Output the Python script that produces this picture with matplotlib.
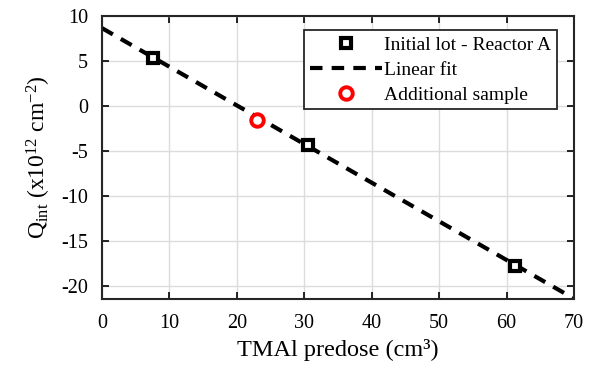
import numpy as np
import matplotlib.pyplot as plt

plt.rcParams['font.family'] = ['Liberation Serif', 'DejaVu Serif']
plt.rcParams['mathtext.fontset'] = 'custom'
plt.rcParams['mathtext.rm'] = 'Liberation Serif'
plt.rcParams['mathtext.it'] = 'Liberation Serif'
plt.rcParams['axes.unicode_minus'] = False

# data
dose = [7.6, 30.6, 61.3]
qint = [5.3, -4.3, -17.7]
extra_dose = [23.0]
extra_qint = [-1.55]

fit = np.polyfit(dose, qint, 1)
xfit = np.array([0, 70])
yfit = np.polyval(fit, xfit)

fig = plt.figure(figsize=(5.95, 3.67), dpi=100)
ax = fig.add_axes([102/595, 1 - 299/367, 472/595, 283/367])

ax.plot(dose, qint, 's', color='k', mfc='white', mec='k', ms=6.5, mew=3,
        label='Initial lot - Reactor A', zorder=3)
ax.plot(xfit, yfit, 'k--', lw=3, dashes=(3, 2.2), label='Linear fit', zorder=2)
ax.plot(extra_dose, extra_qint, 'o', mfc='white', mec='red', ms=9, mew=2.8,
        label='Additional sample', zorder=4)

ax.set_xlim(0, 70)
ax.set_ylim(-21.4, 10)
ax.set_xticks(range(0, 71, 10))
ax.set_yticks(range(-20, 11, 5))
ax.grid(True, color='#dcdcdc', lw=1)
ax.set_axisbelow(True)
ax.tick_params(direction='in', top=True, right=True, labelsize=14.5, length=5, width=1.2)
ax.tick_params(axis='x', pad=11)
ax.tick_params(axis='y', pad=10)
for s in ax.spines.values():
    s.set_linewidth(1.5)
    s.set_color('#262626')

ax.set_xlabel('TMAl predose (cm³)', fontsize=17.5, labelpad=4)
ax.set_ylabel(r'Q$_{\rm int}$ (x10$^{12}$ cm$^{-2}$)', fontsize=17, labelpad=6)

leg = ax.legend(loc='upper right', bbox_to_anchor=((557 - 102) / 472, 0.95), fontsize=14,
                fancybox=False, edgecolor='#262626', framealpha=1,
                handlelength=3.7, borderpad=0.3, labelspacing=0.38,
                handletextpad=0.1, borderaxespad=0)
leg.get_frame().set_linewidth(1.3)

fig.savefig('out.png', dpi=100)
